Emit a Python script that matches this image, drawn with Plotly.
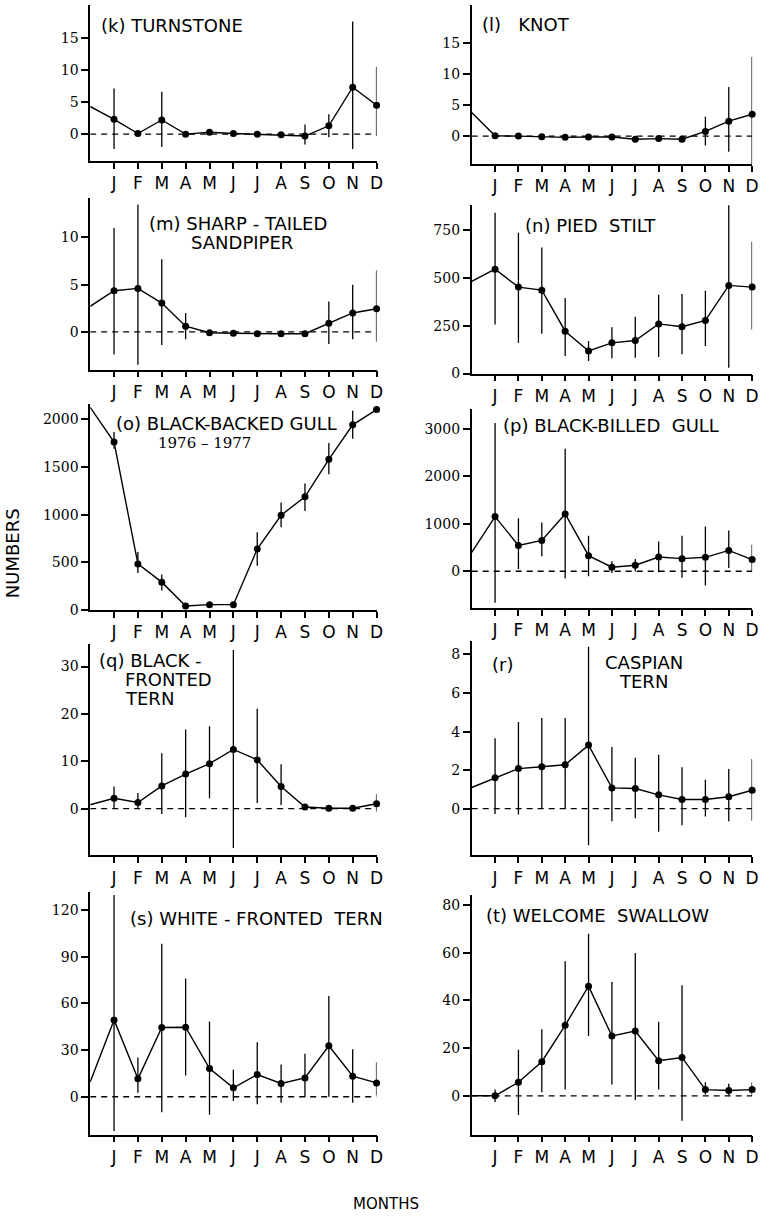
import plotly.graph_objects as go

W, H = 774, 1226

months = ["J", "F", "M", "A", "M", "J", "J", "A", "S", "O", "N", "D"]
month_pos = list(range(1, 13))

# (k) Turnstone
turnstone_start = 4.3
turnstone_mean = [2.3, 0.1, 2.2, 0.0, 0.3, 0.1, 0.0, -0.1, -0.3, 1.3, 7.3, 4.5]
turnstone_hi = [7.1, 0.1, 6.6, 0.0, 0.3, 0.1, 0.0, -0.1, 1.5, 3.1, 17.5, 10.5]
turnstone_lo = [-2.3, 0.1, -2.0, 0.0, 0.3, 0.1, 0.0, -0.1, -1.6, -0.5, -2.3, -0.3]
turnstone_ticks = [0, 5, 10, 15]

# (l) Knot
knot_start = 3.8
knot_mean = [0.05, 0.0, -0.1, -0.2, -0.15, -0.15, -0.5, -0.4, -0.5, 0.75, 2.4, 3.5]
knot_hi = [0.05, 0.0, -0.1, -0.2, -0.15, -0.15, -0.5, -0.4, -0.5, 3.1, 7.9, 12.7]
knot_lo = [0.05, 0.0, -0.1, -0.2, -0.15, -0.15, -0.5, -0.4, -0.5, -1.5, -2.5, -5.7]
knot_ticks = [0, 5, 10, 15]

# (m) Sharp-tailed sandpiper
sandpiper_start = 2.7
sandpiper_mean = [4.35, 4.6, 3.05, 0.6, -0.1, -0.15, -0.2, -0.2, -0.2, 0.9, 2.0, 2.45]
sandpiper_hi = [11.0, 13.5, 7.7, 2.0, -0.1, -0.15, -0.2, -0.2, -0.2, 3.2, 5.0, 6.5]
sandpiper_lo = [-2.4, -3.5, -1.4, -0.8, -0.1, -0.15, -0.2, -0.2, -0.2, -1.3, -0.8, -1.05]
sandpiper_ticks = [0, 5, 10]

# (n) Pied stilt
stilt_start = 483
stilt_mean = [547, 453, 437, 222, 118, 161, 173, 260, 245, 278, 462, 453]
stilt_hi = [842, 738, 660, 396, 170, 243, 297, 413, 417, 434, 882, 691]
stilt_lo = [257, 161, 208, 92, 66, 80, 83, 87, 101, 144, 31, 231]
stilt_ticks = [0, 250, 500, 750]

# (o) Black-backed gull
bbgull_start = 2125
bbgull_mean = [1760, 483, 292, 42, 56, 56, 639, 993, 1187, 1580, 1941, 2101]
bbgull_hi = [1865, 608, 372, 42, 56, 56, 816, 1128, 1326, 1750, 2090, 2101]
bbgull_lo = [1691, 389, 205, 42, 56, 56, 465, 868, 1038, 1424, 1795, 2101]
bbgull_ticks = [0, 500, 1000, 1500, 2000]

# (p) Black-billed gull
bilgull_start = 400
bilgull_mean = [1153, 545, 650, 1209, 329, 84, 126, 300, 266, 294, 440, 245]
bilgull_hi = [3130, 1117, 1027, 2585, 748, 210, 258, 629, 748, 943, 860, 560]
bilgull_lo = [-664, 48, 314, -153, -105, -35, 0, -21, -140, -300, 70, -21]
bilgull_ticks = [0, 1000, 2000, 3000]

# (q) Black-fronted tern
bftern_start = 0.84
bftern_mean = [2.2, 1.3, 4.8, 7.3, 9.5, 12.5, 10.3, 4.7, 0.35, 0.1, 0.1, 1.05]
bftern_hi = [4.7, 3.3, 11.7, 16.7, 17.4, 33.5, 21.1, 9.4, 0.35, 0.1, 0.1, 3.1]
bftern_lo = [0.0, 0.0, -1.1, -1.8, 2.2, -8.3, 1.2, 0.8, 0.35, 0.1, 0.1, -0.6]
bftern_ticks = [0, 10, 20, 30]

# (r) Caspian tern
caspian_start = 1.1
caspian_mean = [1.6, 2.08, 2.18, 2.28, 3.3, 1.08, 1.05, 0.72, 0.48, 0.48, 0.62, 0.96]
caspian_hi = [3.65, 4.5, 4.7, 4.7, 8.4, 3.2, 2.65, 2.8, 2.15, 1.5, 2.06, 2.58]
caspian_lo = [-0.27, -0.3, 0.0, 0.0, -1.9, -0.65, -0.5, -1.2, -0.86, -0.4, -0.65, -0.62]
caspian_ticks = [0, 2, 4, 6, 8]

# (s) White-fronted tern
wftern_start = 9.4
wftern_mean = [49.4, 11.5, 44.5, 44.7, 18.1, 5.7, 14.3, 8.5, 12.1, 32.8, 13.2, 8.9]
wftern_hi = [129.6, 25.3, 98.3, 76.0, 48.3, 17.4, 35.0, 20.7, 27.7, 64.7, 30.6, 22.1]
wftern_lo = [-22.0, 2.5, -10.0, 13.6, -11.5, -2.8, -4.9, -3.8, 0.0, 0.0, -3.8, 0.8]
wftern_ticks = [0, 30, 60, 90, 120]

# (t) Welcome swallow
swallow_start = 0
swallow_mean = [0.0, 5.7, 14.3, 29.6, 46.0, 25.1, 27.2, 14.7, 16.1, 2.6, 2.2, 2.6]
swallow_hi = [2.6, 19.3, 27.9, 56.5, 68.0, 47.8, 59.9, 31.1, 46.4, 5.7, 5.1, 5.7]
swallow_lo = [-2.6, -8.0, 1.5, 2.6, 25.1, 4.7, -1.8, 2.6, -10.5, 0.5, 0.1, 0.1]
swallow_ticks = [0, 20, 40, 60, 80]

# ---------------- layout geometry (pixels) ----------------
col_x = {0: (91, 380), 1: (476, 759)}

panels = [
    dict(col=0, ypx=(5, 162), rng=(-4.17, 20.09), start=turnstone_start, mean=turnstone_mean,
         hi=turnstone_hi, lo=turnstone_lo, ticks=turnstone_ticks, zero=True,
         titles=[("(k) TURNSTONE", 100, 26, "sans")]),
    dict(col=1, ypx=(5, 165), rng=(-4.47, 21.05), start=knot_start, mean=knot_mean,
         hi=knot_hi, lo=knot_lo, ticks=knot_ticks, zero=True,
         titles=[("(l)   KNOT", 484, 25, "sans")]),
    dict(col=0, ypx=(199, 372), rng=(-4.0, 14.21), start=sandpiper_start, mean=sandpiper_mean,
         hi=sandpiper_hi, lo=sandpiper_lo, ticks=sandpiper_ticks, zero=True,
         titles=[("(m) SHARP - TAILED", 148, 225, "sans"), ("SANDPIPER", 191, 244, "sans")]),
    dict(col=1, ypx=(206, 376), rng=(0, 885), start=stilt_start, mean=stilt_mean,
         hi=stilt_hi, lo=stilt_lo, ticks=stilt_ticks, zero=False,
         titles=[("(n) PIED  STILT", 528, 227, "sans")]),
    dict(col=0, ypx=(407, 614), rng=(0, 2156), start=bbgull_start, mean=bbgull_mean,
         hi=bbgull_hi, lo=bbgull_lo, ticks=bbgull_ticks, zero=False,
         titles=[("(o) BLACK-BACKED GULL", 115, 426, "sans"), ("1976 \u2013 1977", 157, 446, "serif")]),
    dict(col=1, ypx=(412, 612), rng=(-776, 3417), start=bilgull_start, mean=bilgull_mean,
         hi=bilgull_hi, lo=bilgull_lo, ticks=bilgull_ticks, zero=True,
         titles=[("(p) BLACK-BILLED  GULL", 506, 428, "sans")]),
    dict(col=0, ypx=(648, 861), rng=(-9.85, 34.8), start=bftern_start, mean=bftern_mean,
         hi=bftern_hi, lo=bftern_lo, ticks=bftern_ticks, zero=True,
         titles=[("(q) BLACK -", 98, 665, "sans"), ("FRONTED", 124, 684, "sans"), ("TERN", 124, 703, "sans")]),
    dict(col=1, ypx=(645, 861), rng=(-2.42, 8.71), start=caspian_start, mean=caspian_mean,
         hi=caspian_hi, lo=caspian_lo, ticks=caspian_ticks, zero=True,
         titles=[("(r)", 494, 669, "sans"), ("CASPIAN", 608, 667, "sans"), ("TERN", 623, 686, "sans")]),
    dict(col=0, ypx=(898, 1142), rng=(-24.3, 131.5), start=wftern_start, mean=wftern_mean,
         hi=wftern_hi, lo=wftern_lo, ticks=wftern_ticks, zero=True,
         titles=[("(s) WHITE - FRONTED  TERN", 129, 925, "sans")]),
    dict(col=1, ypx=(901, 1142), rng=(-16.25, 84.2), start=swallow_start, mean=swallow_mean,
         hi=swallow_hi, lo=swallow_lo, ticks=swallow_ticks, zero=True,
         titles=[("(t) WELCOME  SWALLOW", 488, 922, "sans")]),
]

SANS = "DejaVu Sans"
SERIF = "DejaVu Serif"

fig = go.Figure()
layout = dict(
    width=W, height=H, margin=dict(l=0, r=0, t=0, b=0),
    paper_bgcolor="white", plot_bgcolor="white", showlegend=False,
)
shapes = []
annotations = []

for i, p in enumerate(panels, start=1):
    xs = "x" if i == 1 else f"x{i}"
    ys = "y" if i == 1 else f"y{i}"
    x0, x1 = col_x[p["col"]]
    yt, yb = p["ypx"]

    layout[f"xaxis{i}" if i > 1 else "xaxis"] = dict(
        domain=[x0 / W, x1 / W], range=[0, 12], anchor=ys,
        tickmode="array", tickvals=month_pos, ticktext=months,
        ticks="outside", ticklen=6, tickwidth=1.5, tickcolor="black",
        showline=True, linecolor="black", linewidth=1.6, showgrid=False, zeroline=False,
        tickfont=dict(family=SANS, size=17, color="black"),
    )
    layout[f"yaxis{i}" if i > 1 else "yaxis"] = dict(
        domain=[1 - yb / H, 1 - yt / H], range=list(p["rng"]), anchor=xs,
        tickmode="array", tickvals=p["ticks"],
        ticks="outside", ticklen=7, tickwidth=1.5, tickcolor="black",
        showline=True, linecolor="black", linewidth=1.6, showgrid=False, zeroline=False,
        tickfont=dict(family=SERIF, size=14, color="black"),
    )

    line_x = [0] + month_pos
    line_y = [p["start"]] + p["mean"]
    fig.add_trace(go.Scatter(
        x=line_x, y=line_y, xaxis=xs, yaxis=ys, mode="lines",
        line=dict(color="black", width=1.4), cliponaxis=True, hoverinfo="skip",
    ))
    err_plus = [h - m for h, m in zip(p["hi"], p["mean"])]
    err_minus = [m - l for m, l in zip(p["mean"], p["lo"])]
    fig.add_trace(go.Scatter(
        x=month_pos, y=p["mean"], xaxis=xs, yaxis=ys, mode="markers",
        marker=dict(color="black", size=7),
        error_y=dict(type="data", symmetric=False, array=err_plus, arrayminus=err_minus,
                     color="black", thickness=1.3, width=0),
        cliponaxis=False,
    ))
    if p["zero"]:
        shapes.append(dict(
            type="line", xref=xs, yref=ys, x0=0, x1=len(months), y0=0, y1=0,
            line=dict(color="black", width=1.3, dash="6px,5px"), layer="below",
        ))
    for text, tx, ty, fam in p["titles"]:
        annotations.append(dict(
            text=text, xref="paper", yref="paper", x=tx / W, y=1 - ty / H,
            xanchor="left", yanchor="middle", showarrow=False,
            font=dict(family=SANS if fam == "sans" else SERIF,
                      size=18 if fam == "sans" else 15, color="black"),
        ))

annotations.append(dict(
    text="NUMBERS", xref="paper", yref="paper", x=12 / W, y=1 - 557 / H,
    xanchor="center", yanchor="middle", showarrow=False, textangle=-90,
    font=dict(family=SANS, size=18, color="black"),
))
annotations.append(dict(
    text="MONTHS", xref="paper", yref="paper", x=390 / W, y=1 - 1212 / H,
    xanchor="center", yanchor="middle", showarrow=False,
    font=dict(family=SANS, size=15, color="black"),
))

layout["shapes"] = shapes
layout["annotations"] = annotations
fig.update_layout(**layout)
fig.write_html("out.html", config={"displayModeBar": False},
               post_script="document.body.style.margin='0';")
